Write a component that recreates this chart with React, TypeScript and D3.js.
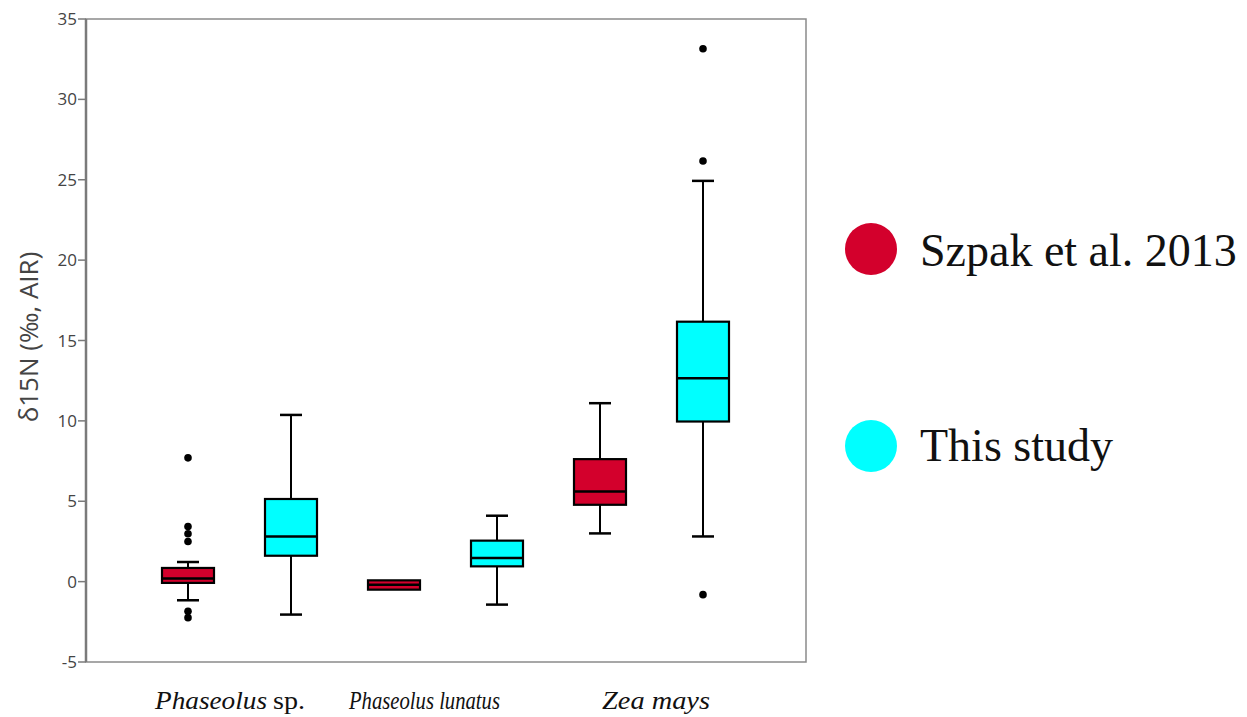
import React from "react";
import * as d3 from "d3";

const categories = ["Phaseolus sp.", "Phaseolus lunatus", "Zea mays"];
const seriesNames = ["Szpak et al. 2013", "This study"];
const seriesColors = ["#d3002c", "#00ffff"];
const yTicks = [-5, 0, 5, 10, 15, 20, 25, 30, 35];

// [category, series, lowWhisker, q1, median, q3, highWhisker]
const boxStats: [number, number, number | null, number, number, number, number | null][] = [
  [0, 0, -1.16, -0.08, 0.19, 0.85, 1.22],
  [0, 1, -2.05, 1.61, 2.81, 5.14, 10.37],
  [1, 0, null, -0.5, -0.2, 0.08, null],
  [1, 1, -1.43, 0.95, 1.47, 2.55, 4.1],
  [2, 0, 3.0, 4.78, 5.61, 7.62, 11.1],
  [2, 1, 2.81, 9.96, 12.65, 16.17, 24.93],
];

// [category, series, value]
const outliers: [number, number, number][] = [
  [0, 0, 7.7], [0, 0, 3.43], [0, 0, 2.98], [0, 0, 2.5], [0, 0, -1.85], [0, 0, -2.24],
  [2, 1, 33.15], [2, 1, 26.17], [2, 1, -0.81],
];

// category label pieces: [text, italic, x, width]
const labelParts: [string, boolean, number, number][] = [
  ["Phaseolus", true, 155, 112],
  ["sp.", false, 273, 32],
  ["Phaseolus lunatus", true, 349, 151],
  ["Zea mays", true, 602, 108],
];

export default function App() {
  const W = 1247, H = 717;
  const left = 86, right = 806, top = 19, bottom = 662;
  const y = d3.scaleLinear().domain([-5, 35]).range([bottom, top]);
  const x0 = d3.scaleBand().domain(categories).range([136.5, 754.5]).paddingInner(0).paddingOuter(0);
  const x1 = d3.scaleBand().domain(seriesNames).range([0, x0.bandwidth()]).padding(0);
  const bw = 52;
  const cx = (c: number, s: number) => (x0(categories[c]) as number) + (x1(seriesNames[s]) as number) + x1.bandwidth() / 2;
  const capW = 22;

  return (
    <svg width={W} height={H} style={{ position: "absolute", left: 0, top: 0, background: "#fff" }}>
      <rect x={0} y={0} width={W} height={H} fill="#fff" />
      <rect x={left} y={top} width={right - left} height={bottom - top} fill="none" stroke="#8a8a8a" strokeWidth={1.5} />
      <line x1={left} x2={left} y1={top} y2={bottom} stroke="#7a7a7a" strokeWidth={2.5} />
      {yTicks.map((t) => (
        <g key={t}>
          <line x1={78} x2={left} y1={y(t)} y2={y(t)} stroke="#7a7a7a" strokeWidth={1.5} />
          <text x={77} y={y(t)} dy="0.36em" textAnchor="end" fontFamily="'Open Sans', sans-serif" fontSize={17} fill="#444">{t}</text>
        </g>
      ))}
      <text transform={`translate(38,${337}) rotate(-90)`} textAnchor="middle" fontFamily="'Open Sans', sans-serif" fontSize={26} fill="#444">δ15N (‰, AIR)</text>

      {boxStats.map(([c, s, lo, q1, med, q3, hi], i) => {
        const xc = cx(c, s);
        return (
          <g key={i} stroke="#000">
            {hi !== null && <line x1={xc} x2={xc} y1={y(q3)} y2={y(hi)} strokeWidth={2} />}
            {hi !== null && <line x1={xc - capW / 2} x2={xc + capW / 2} y1={y(hi)} y2={y(hi)} strokeWidth={2.5} />}
            {lo !== null && <line x1={xc} x2={xc} y1={y(q1)} y2={y(lo)} strokeWidth={2} />}
            {lo !== null && <line x1={xc - capW / 2} x2={xc + capW / 2} y1={y(lo)} y2={y(lo)} strokeWidth={2.5} />}
            <rect x={xc - bw / 2} y={y(q3)} width={bw} height={y(q1) - y(q3)} fill={seriesColors[s]} strokeWidth={2.2} />
            <line x1={xc - bw / 2} x2={xc + bw / 2} y1={y(med)} y2={y(med)} strokeWidth={2.5} />
          </g>
        );
      })}
      {outliers.map(([c, s, v], i) => (
        <circle key={i} cx={cx(c, s)} cy={y(v)} r={3.8} fill="#000" />
      ))}

      {labelParts.map(([t, it, lx, lw], i) => (
        <text key={i} x={lx} y={709} textLength={lw} lengthAdjust="spacingAndGlyphs" fontFamily="'Liberation Serif', serif" fontStyle={it ? "italic" : "normal"} fontSize={25} fill="#111">{t}</text>
      ))}

      {seriesNames.map((n, i) => (
        <g key={n}>
          <circle cx={871} cy={i === 0 ? 249 : 446} r={26} fill={seriesColors[i]} />
          <text x={920} y={i === 0 ? 266 : 461} fontFamily="'Liberation Serif', serif" fontSize={46} fill="#111">{n}</text>
        </g>
      ))}
    </svg>
  );
}
